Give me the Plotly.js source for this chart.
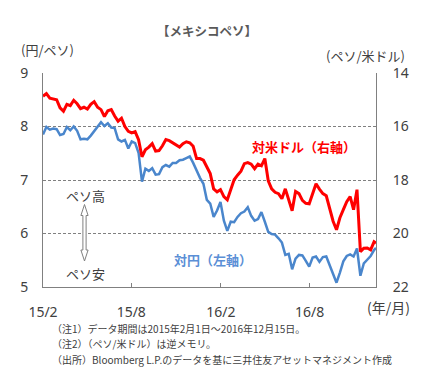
<!DOCTYPE html>
<html>
<head>
<meta charset="utf-8">
<script src="https://cdn.plot.ly/plotly-3.0.1.min.js"></script>
<style>
  html, body { margin: 0; padding: 0; background: #fff; }
  #chart { width: 437px; height: 379px; }
</style>
</head>
<body>
<div id="chart"></div>
<script>
// ---- Data ----
const dates = [
  '2015-02-01','2015-02-08','2015-02-15','2015-02-22','2015-03-01','2015-03-08','2015-03-15','2015-03-22','2015-03-29','2015-04-05',
  '2015-04-12','2015-04-19','2015-04-26','2015-05-03','2015-05-10','2015-05-17','2015-05-24','2015-05-31','2015-06-07','2015-06-14',
  '2015-06-21','2015-06-28','2015-07-05','2015-07-12','2015-07-19','2015-07-26','2015-08-02','2015-08-09','2015-08-16','2015-08-23',
  '2015-08-30','2015-09-06','2015-09-13','2015-09-20','2015-09-27','2015-10-04','2015-10-11','2015-10-18','2015-10-25','2015-11-01',
  '2015-11-08','2015-11-15','2015-11-22','2015-11-29','2015-12-06','2015-12-13','2015-12-20','2015-12-27','2016-01-03','2016-01-10',
  '2016-01-17','2016-01-24','2016-01-31','2016-02-07','2016-02-14','2016-02-21','2016-02-28','2016-03-06','2016-03-13','2016-03-20',
  '2016-03-27','2016-04-03','2016-04-10','2016-04-17','2016-04-24','2016-05-01','2016-05-08','2016-05-15','2016-05-22','2016-05-29',
  '2016-06-05','2016-06-12','2016-06-19','2016-06-26','2016-07-03','2016-07-10','2016-07-17','2016-07-24','2016-07-31','2016-08-07',
  '2016-08-14','2016-08-21','2016-08-28','2016-09-04','2016-09-11','2016-09-18','2016-09-25','2016-10-02','2016-10-09','2016-10-16',
  '2016-10-23','2016-10-30','2016-11-06','2016-11-13','2016-11-20','2016-11-27','2016-12-04','2016-12-11','2016-12-15'
];
// JPY per MXN (left axis)
const jpyPerPeso = [
  7.85,7.99,7.94,7.96,7.95,7.84,7.86,7.99,7.93,8.00,
  7.92,7.76,7.77,7.76,7.83,7.92,8.00,8.08,8.01,8.06,
  7.98,7.97,7.76,7.72,7.75,7.59,7.72,7.69,7.51,6.97,
  7.21,7.17,7.22,7.10,7.11,7.24,7.28,7.25,7.32,7.32,
  7.37,7.38,7.41,7.44,7.32,7.17,7.04,6.93,6.63,6.56,
  6.31,6.43,6.59,6.24,6.05,6.22,6.21,6.31,6.38,6.41,
  6.49,6.33,6.24,6.27,6.40,6.22,6.03,5.99,5.98,5.91,
  5.83,5.60,5.62,5.33,5.53,5.60,5.59,5.49,5.38,5.55,
  5.57,5.47,5.56,5.57,5.40,5.23,5.08,5.27,5.48,5.58,
  5.61,5.57,5.72,5.21,5.44,5.51,5.58,5.69,5.73
];
// MXN per USD (right axis, reversed)
const pesoPerUsd = [
  14.87,14.77,14.94,14.96,15.00,15.30,15.43,15.17,15.22,15.02,
  15.15,15.33,15.28,15.35,15.17,15.07,15.28,15.37,15.63,15.41,
  15.37,15.61,15.80,15.69,16.00,16.18,16.24,16.19,16.49,17.13,
  16.87,16.77,16.64,16.92,16.90,16.72,16.49,16.53,16.62,16.68,
  16.77,16.64,16.57,16.61,16.74,17.20,17.20,17.26,17.50,17.76,
  18.33,18.44,18.36,18.62,18.74,18.40,17.99,17.82,17.67,17.39,
  17.35,17.41,17.58,17.41,17.47,17.20,18.03,18.33,18.46,18.51,
  18.70,18.33,18.76,19.15,18.43,18.51,18.76,18.87,18.89,18.51,
  18.14,18.34,18.51,18.59,19.11,19.54,19.86,19.41,19.11,18.81,
  18.62,19.11,18.36,20.68,20.55,20.54,20.61,20.31,20.36
];
const xTickVals = ['2015-02-01','2015-08-01','2016-02-01','2016-08-01'];
const xTickText = ['15/2','15/8','16/2','16/8'];
const leftTicks = [5,6,7,8,9];
const rightTicks = [14,16,18,20,22];
const notes = [
  '（注1）データ期間は2015年2月1日～2016年12月15日。',
  '（注2）（ペソ/米ドル）は逆メモリ。',
  '（出所）Bloomberg L.P.のデータを基に三井住友アセットマネジメント作成'
];

// ---- Layout helpers (pixel -> paper) ----
const L = 43, R = 61, T = 73, B = 92, W = 437, H = 379;
const PW = W - L - R, PH = H - T - B;
const px = x => (x - L) / PW;
const py = y => (H - B - y) / PH;

const jp = '"Noto Sans CJK JP", "Noto Sans", sans-serif';
const num = '"Noto Sans", "DejaVu Sans", sans-serif';
const gray = '#404040';

const traces = [
  {
    x: dates, y: jpyPerPeso, type: 'scatter', mode: 'lines', name: '対円',
    line: { color: '#4a86cc', width: 2.5 }, yaxis: 'y', hoverinfo: 'skip'
  },
  {
    x: dates, y: pesoPerUsd, type: 'scatter', mode: 'lines', name: '対米ドル',
    line: { color: '#ff0000', width: 3 }, yaxis: 'y2', hoverinfo: 'skip'
  }
];

// hollow double-headed arrow
const cx = px(84.5), hw = 3.6 / PW, sw = 1.6 / PW;
const yt = py(204.5), yhb = py(215.5), ylb = py(250), yb = py(261);
const arrowPath = `M ${cx},${yt} L ${cx+hw},${yhb} L ${cx+sw},${yhb} L ${cx+sw},${ylb} L ${cx+hw},${ylb} L ${cx},${yb} ` +
                  `L ${cx-hw},${ylb} L ${cx-sw},${ylb} L ${cx-sw},${yhb} L ${cx-hw},${yhb} Z`;

const noteYs = [328, 344, 359];
const noteAnns = notes.map((t, i) => ({
  text: t, xref: 'paper', yref: 'paper', x: px(51), y: py(noteYs[i]),
  xanchor: 'left', yanchor: 'middle', align: 'left', showarrow: false,
  borderpad: 0,
  font: { family: jp, size: 10, color: gray }
}));

const layout = {
  width: W, height: H,
  margin: { l: L, r: R, t: T, b: B, pad: 0 },
  paper_bgcolor: '#ffffff', plot_bgcolor: '#ffffff',
  showlegend: false,
  xaxis: {
    type: 'date',
    range: ['2015-02-01', '2016-12-15'],
    tickvals: xTickVals, ticktext: xTickText,
    ticks: 'inside', ticklen: 4, tickcolor: '#808080', tickwidth: 1,
    showgrid: false, zeroline: false,
    showline: true, linecolor: '#808080', linewidth: 1,
    tickfont: { family: num, size: 14, color: gray },
    ticklabelstandoff: 12,
    fixedrange: true
  },
  yaxis: {
    range: [5, 9], tickvals: leftTicks,
    ticks: '', showgrid: true, gridcolor: '#808080', gridwidth: 1, griddash: '3px,2px',
    zeroline: false, showline: true, linecolor: '#808080', linewidth: 1,
    tickfont: { family: num, size: 14, color: gray },
    ticklabelstandoff: 11,
    fixedrange: true
  },
  yaxis2: {
    overlaying: 'y', side: 'right',
    range: [22, 14], tickvals: rightTicks,
    ticks: '', showgrid: false, zeroline: false,
    showline: true, linecolor: '#808080', linewidth: 1,
    tickfont: { family: num, size: 14, color: gray },
    ticklabelstandoff: 13,
    fixedrange: true
  },
  shapes: [
    { type: 'path', xref: 'paper', yref: 'paper', path: arrowPath,
      line: { color: '#808080', width: 1 }, fillcolor: '#ffffff' }
  ],
  annotations: [
    { text: '<b>【メキシコペソ】</b>', xref: 'paper', yref: 'paper', x: px(207), y: py(30),
      xanchor: 'center', yanchor: 'middle', showarrow: false,
      font: { family: jp, size: 12.5, color: '#595959' } },
    { text: '(円/ペソ)', xref: 'paper', yref: 'paper', x: px(47), y: py(49),
      xanchor: 'center', yanchor: 'middle', showarrow: false,
      font: { family: jp, size: 13, color: gray } },
    { text: '(ペソ/米ドル)', xref: 'paper', yref: 'paper', x: px(365), y: py(55),
      xanchor: 'center', yanchor: 'middle', showarrow: false,
      font: { family: jp, size: 13, color: gray } },
    { text: '(年/月)', xref: 'paper', yref: 'paper', x: px(388), y: py(307),
      xanchor: 'center', yanchor: 'middle', showarrow: false,
      font: { family: jp, size: 14, color: gray } },
    { text: '<b>対米ドル（右軸）</b>', xref: 'paper', yref: 'paper', x: px(304), y: py(146.5),
      xanchor: 'center', yanchor: 'middle', showarrow: false,
      font: { family: jp, size: 13, color: '#ff0000' } },
    { text: '対円（左軸）', xref: 'paper', yref: 'paper', x: px(213), y: py(259.5),
      xanchor: 'center', yanchor: 'middle', showarrow: false,
      font: { family: jp, size: 13, color: '#5b8fd6', weight: 600 } },
    { text: 'ペソ高', xref: 'paper', yref: 'paper', x: px(85), y: py(195.5),
      xanchor: 'center', yanchor: 'middle', showarrow: false,
      font: { family: jp, size: 13, color: gray } },
    { text: 'ペソ安', xref: 'paper', yref: 'paper', x: px(85), y: py(273.5),
      xanchor: 'center', yanchor: 'middle', showarrow: false,
      font: { family: jp, size: 13, color: gray } },
    ...noteAnns
  ]
};

Plotly.newPlot('chart', traces, layout, { staticPlot: true, displayModeBar: false });
</script>
</body>
</html>
